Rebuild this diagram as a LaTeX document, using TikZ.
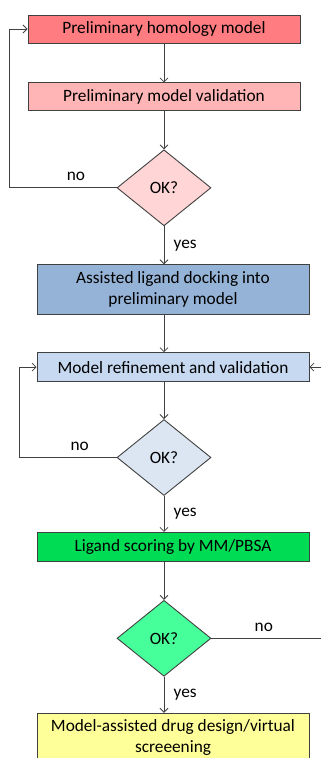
\documentclass[tikz,border=0pt]{standalone}
\usepackage{xcolor}
\usepackage{fontspec}
\setmainfont{Carlito}
\usepackage{tikz}
\usetikzlibrary{shapes.geometric, arrows.meta, positioning}

\definecolor{homred}{HTML}{FF7C80}
\definecolor{valred}{HTML}{FFB5B5}
\definecolor{okred}{HTML}{FFD5D5}
\definecolor{dockblue}{HTML}{95B3D7}
\definecolor{refblue}{HTML}{C6D9F1}
\definecolor{okblue}{HTML}{DCE6F2}
\definecolor{scoregreen}{HTML}{00DD55}
\definecolor{okgreen}{HTML}{47FF9A}
\definecolor{designyellow}{HTML}{FFFF99}
\definecolor{edge}{HTML}{404040}

\begin{document}
\begin{tikzpicture}[
    x=1pt, y=-1pt,
    font=\fontsize{17.3}{21}\selectfont,
    % boxes and decision diamonds
    block/.style={
        rectangle,
        draw=edge,
        line width=0.9pt,
        minimum width=272pt,
        align=center,
        inner sep=2pt
    },
    decision/.style={
        diamond,
        draw=edge,
        line width=0.9pt,
        aspect=1.24,
        inner sep=0pt,
        minimum width=94pt,
        minimum height=76pt
    },
    line/.style={draw=edge, line width=0.8pt, -{Straight Barb[length=4pt, width=8pt]}}
]
    \useasboundingbox (0,0) rectangle (321,758);
    \clip (0,0) rectangle (321,758);

    % Nodes
    \node [block, fill=homred, minimum height=28pt] (homology) at (164,29) {Preliminary homology model};
    \node [block, fill=valred, minimum height=28pt, below=39pt of homology] (prevalid) {Preliminary model validation};
    \node [decision, fill=okred, below=38pt of prevalid] (okpre) {OK?};
    \node [block, fill=dockblue, minimum height=50pt, below=38pt of okpre, xshift=9pt] (docking) {Assisted ligand docking into\\preliminary model};
    \node [block, fill=refblue, minimum height=29pt, below=37pt of docking] (refine) {Model refinement and validation};
    \node [decision, fill=okblue, below=37pt of refine, xshift=-9pt] (okref) {OK?};
    \node [block, fill=scoregreen, minimum height=29pt, below=36pt of okref, xshift=9pt] (scoring) {Ligand scoring by MM/PBSA};
    \node [decision, fill=okgreen, below=38pt of scoring, xshift=-9pt] (okscore) {OK?};
    \node [block, fill=designyellow, minimum height=49pt, below=36pt of okscore, xshift=9pt] (design) {Model-assisted drug design/virtual\\screeening};

    % Paths (Arrows)
    \path [line] (homology) -- (prevalid);
    \path [line] (prevalid) -- (okpre);
    \path [line] (okpre) -- (okpre |- docking.north) node [midway, right=6pt] {yes};
    \path [line] (okpre.west) -| ([xshift=-18pt]homology.west) node [pos=0.19, above=3pt] {no} -- (homology.west);
    \path [line] (okpre |- docking.south) -- (okpre |- refine.north);
    \path [line] (okref |- refine.south) -- (okref);
    \path [line] (okref) -- (okref |- scoring.north) node [midway, right=6pt] {yes};
    \path [line] (okref.west) -| ([xshift=-17pt]refine.west) node [pos=0.19, above=3pt] {no} -- (refine.west);
    \path [line] (okscore |- scoring.south) -- (okscore);
    \path [line] (okscore) -- (okscore |- design.north) node [midway, right=6pt] {yes};
    \path [line] (okscore.east) -| ([xshift=21pt]refine.east) node [pos=0.22, above=3pt] {no} -- (refine.east);
\end{tikzpicture}
\end{document}
